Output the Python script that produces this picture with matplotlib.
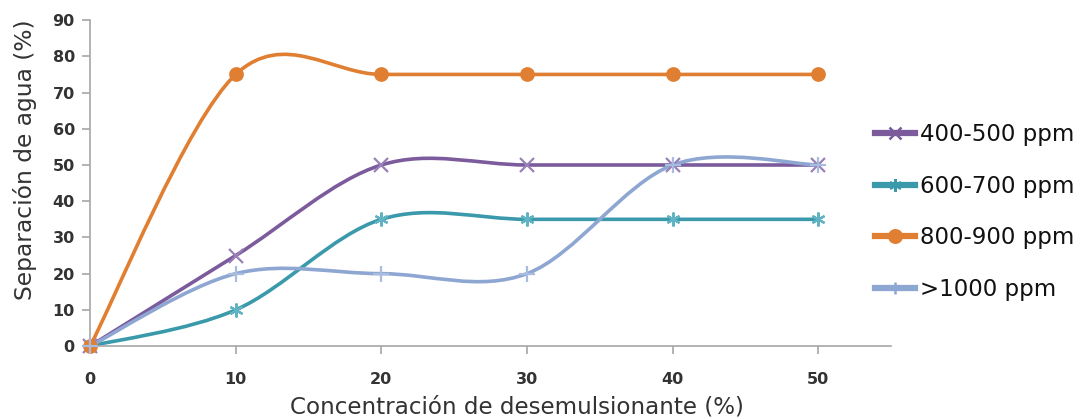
import matplotlib
matplotlib.use("Agg")
from matplotlib import pyplot as plt
from matplotlib.path import Path
from matplotlib.patches import PathPatch
from matplotlib.lines import Line2D
import numpy as np

plt.rcParams['font.family'] = ['DejaVu Sans']

# ==================================================
#   DATA

conc = [0, 10, 20, 30, 40, 50]
labels = ["400-500 ppm", "600-700 ppm", "800-900 ppm", ">1000 ppm"]
s_400_500 = [0, 25, 50, 50, 50, 50]
s_600_700 = [0, 10, 35, 35, 35, 35]
s_800_900 = [0, 75, 75, 75, 75, 75]
s_1000 = [0, 20, 20, 20, 50, 50]

series = [s_400_500, s_600_700, s_800_900, s_1000]
colors = ["#7b5b9b", "#3a99aa", "#e07f31", "#8ea6d2"]
marker_colors = ["#9a80b8", "#5fb3c2", "#e07f31", "#a8bce0"]
markers = ["x", (6, 2, 0), "o", "+"]
msizes = [10, 10, 9, 12]


def smooth_path(x, y):
    # excel-like smoothed line: catmull-rom as cubic bezier segments
    pts = np.column_stack([x, y]).astype(float)
    n = len(pts)
    verts = [pts[0]]
    codes = [Path.MOVETO]
    for i in range(n - 1):
        p0 = pts[max(i - 1, 0)]
        p1 = pts[i]
        p2 = pts[i + 1]
        p3 = pts[min(i + 2, n - 1)]
        verts += [p1 + (p2 - p0) / 6, p2 - (p3 - p1) / 6, p2]
        codes += [Path.CURVE4] * 3
    return Path(verts, codes)


fig = plt.figure(figsize=(10.81, 4.19), dpi=100)
ax = fig.add_axes([0.0833, 0.174, 0.741, 0.778])

handles = []
for i, ys in enumerate(series):
    patch = PathPatch(smooth_path(conc, ys), facecolor="none", edgecolor=colors[i],
                      lw=2.6, transform=ax.transData, zorder=2 + i * 0.1)
    ax.add_patch(patch)
    ax.plot(conc, ys, ls="none", marker=markers[i], ms=msizes[i],
            mew=1.6, color=marker_colors[i], zorder=3, clip_on=False)
    handles.append(Line2D([], [], color=colors[i], lw=4.5, marker=markers[i],
                          ms=9, mew=1.8, mec=colors[i], mfc=colors[i]))

ax.set_xlim(0, 55)
ax.set_ylim(0, 90)
ax.set_xticks(conc)
ax.set_yticks(np.arange(0, 91, 10))

for side in ["top", "right"]:
    ax.spines[side].set_visible(False)
for side in ["left", "bottom"]:
    ax.spines[side].set_color("#a6a6a6")
    ax.spines[side].set_linewidth(1.2)

ax.tick_params(axis="y", length=6, width=1.2, color="#a6a6a6", pad=5,
               labelsize=11.5, labelcolor="#333333")
ax.tick_params(axis="x", length=6, width=1.2, color="#a6a6a6", pad=13,
               labelsize=11.5, labelcolor="#333333")
for lab in ax.get_xticklabels() + ax.get_yticklabels():
    lab.set_fontweight("bold")

ax.set_ylabel("Separación de agua (%)", fontsize=16.8, color="#333333")
ax.yaxis.set_label_coords(-0.066, 0.571)
ax.set_xlabel("Concentración de desemulsionante (%)", fontsize=16.6,
              color="#333333")
ax.xaxis.set_label_coords(0.533, -0.152)

fig.legend(handles, labels, loc="center left", bbox_to_anchor=(0.809, 0.494),
           frameon=False, fontsize=16.5, handlelength=1.75, handletextpad=0.22,
           labelspacing=1.25, borderpad=0, borderaxespad=0,
           labelcolor="#111111")

fig.savefig("out.png", dpi=100)
